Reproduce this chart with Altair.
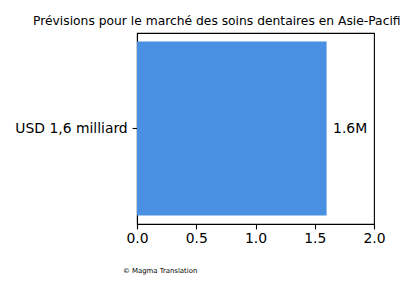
import altair as alt
import pandas as pd

categories = ["USD 1,6 milliard"]
values = [1.6]
bar_labels = ["1.6M"]
x_ticks = [0.0, 0.5, 1.0, 1.5, 2.0]
title_text = "Prévisions pour le marché des soins dentaires en Asie-Pacifique"
footer_text = "© Magma Translation"

df = pd.DataFrame({"cat": categories, "val": values, "lab": bar_labels})
FONT = "DejaVu Sans"

base = alt.Chart(df)

bars = base.mark_bar(color="#4A90E2").encode(
    x=alt.X("val:Q", scale=alt.Scale(domain=[0, 2], nice=False, zero=True),
            axis=alt.Axis(values=x_ticks, format=".1f", title=None, grid=False,
                          labelFontSize=13.9, labelFont=FONT, labelColor="black",
                          labelFlush=False, labelOverlap=False,
                          tickColor="black", domainColor="black", tickSize=4.9,
                          labelPadding=3, tickWidth=1.1, domainWidth=1.1)),
    y=alt.Y("cat:N", scale=alt.Scale(paddingInner=0, paddingOuter=0.049),
            axis=alt.Axis(title=None, grid=False, labelFontSize=13.9, labelFont=FONT,
                          labelColor="black", tickColor="black", domainColor="black",
                          tickSize=4.9, labelPadding=4.9, tickWidth=1.1, domainWidth=1.1)),
)

labels = base.mark_text(align="left", baseline="middle", dx=6.5, fontSize=13.9,
                        font=FONT, color="black").encode(
    x="val:Q", y="cat:N", text="lab:N")

title = alt.Chart(pd.DataFrame({"t": [title_text]})).mark_text(
    align="left", baseline="alphabetic", fontSize=12.3, font=FONT, color="black"
).encode(x=alt.value(-104), y=alt.value(-8), text="t:N")

footer = alt.Chart(pd.DataFrame({"t": [footer_text]})).mark_text(
    align="left", baseline="alphabetic", fontSize=6.9, font=FONT, color="black"
).encode(x=alt.value(-14), y=alt.value(240), text="t:N")

chart = alt.layer(bars, labels, title, footer).properties(
    width=237, height=191,
    background="white",
    autosize=alt.AutoSizeParams(type="none"),
    padding={"left": 137, "top": 33, "right": 26, "bottom": 76},
).configure_view(stroke="black", strokeWidth=1.1)

chart.save("out.html", embed_options={"renderer": "svg", "actions": False})
